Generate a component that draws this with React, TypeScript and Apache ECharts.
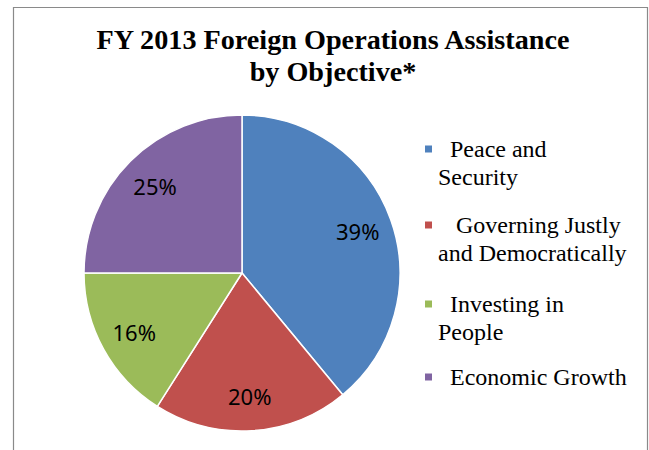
import React, { useEffect, useRef } from "react";
import * as echarts from "echarts";

const categories = [
  "Peace and Security",
  "Governing Justly and Democratically",
  "Investing in People",
  "Economic Growth",
];
const values = [39, 20, 16, 25];
const legendLines = [
  ["\u00a0\u00a0Peace and", "Security"],
  ["\u00a0\u00a0\u00a0Governing Justly", "and Democratically"],
  ["\u00a0\u00a0Investing in", "People"],
  ["\u00a0\u00a0Economic Growth"],
];
const colors = ["#4F81BD", "#C0504D", "#9BBB59", "#8064A2"];
const titleText = "FY 2013 Foreign Operations Assistance\nby Objective*";

export default function App() {
  const ref = useRef<HTMLDivElement>(null);
  useEffect(() => {
    if (!ref.current) return;
    const chart = echarts.init(ref.current, null, { renderer: "svg" });
    const LH = 28;
    const markerCenters = [149, 225, 304, 377];
    const legends = categories.map((name, i) => {
      const lines = legendLines[i];
      const twoLine = lines.length > 1;
      // a blank first line keeps the marker level with the first text line
      const text = twoLine ? ["\u00a0", ...lines].join("\n") : lines[0];
      const top = markerCenters[i] - (twoLine ? 1.5 * LH : 0.5 * LH);
      return {
        orient: "vertical",
        left: 423,
        top,
        padding: 0,
        itemWidth: 9,
        itemHeight: 9,
        icon: "rect",
        selectedMode: false,
        formatter: () => text,
        textStyle: {
          fontFamily: "'Liberation Serif', 'Times New Roman', serif",
          fontSize: 24,
          lineHeight: LH,
          color: "#000",
        },
        data: [name],
      };
    });
    chart.setOption({
      animation: false,
      color: colors,
      title: {
        text: titleText,
        left: 333,
        textAlign: "center",
        top: 23,
        padding: 0,
        textStyle: {
          fontFamily: "'Liberation Serif', 'Times New Roman', serif",
          fontWeight: "bold",
          fontSize: 28.2,
          lineHeight: 32,
          color: "#000",
        },
      },
      legend: legends,
      graphic: [
        {
          type: "rect",
          shape: { x: 13.5, y: 7.5, width: 634, height: 470 },
          style: { fill: "none", stroke: "#8a8a8a", lineWidth: 1.2 },
          silent: true,
          z: -10,
        },
      ],
      series: [
        {
          type: "pie",
          center: [242, 273],
          radius: [0, 158],
          startAngle: 90,
          clockwise: true,
          silent: true,
          label: { show: false },
          labelLine: { show: false },
          itemStyle: { borderColor: "#fff", borderWidth: 1.5 },
          data: categories.map((name, i) => ({ name, value: values[i] })),
        },
        {
          type: "pie",
          center: [242, 273],
          radius: [82, 158],
          startAngle: 90,
          clockwise: true,
          silent: true,
          itemStyle: { color: "rgba(0,0,0,0)", borderWidth: 0 },
          labelLine: { show: false },
          label: {
            show: true,
            position: "inside",
            formatter: "{c}%",
            fontFamily: "Noto Sans",
            fontSize: 22,
            color: "#000",
          },
          data: categories.map((name, i) => ({ name, value: values[i] })),
        },
      ],
    });
    return () => chart.dispose();
  }, []);
  return (
    <div
      ref={ref}
      style={{ position: "absolute", left: 0, top: 0, width: 649, height: 450, background: "#fff" }}
    />
  );
}
